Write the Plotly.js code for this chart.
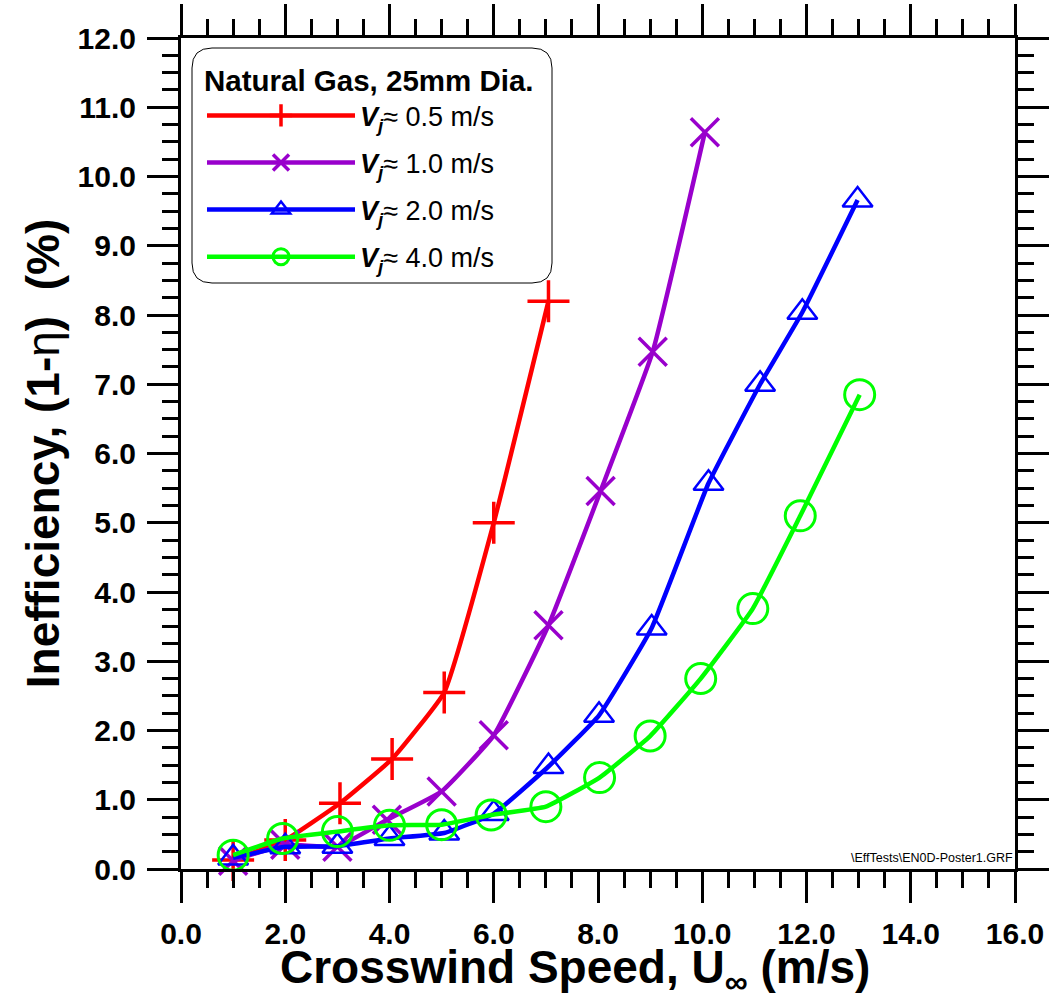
<!DOCTYPE html>
<html>
<head>
<meta charset="utf-8">
<script src="https://cdn.plot.ly/plotly-3.0.1.min.js"></script>
<style>html,body{margin:0;padding:0;background:#fff;}#chart{width:1053px;height:999px;}</style>
</head>
<body>
<div id="chart"></div>
<script>
// Crosswind speed (m/s) and inefficiency (%) for each jet exit velocity
var seriesNames = ["0.5 m/s", "1.0 m/s", "2.0 m/s", "4.0 m/s"];

var xVj05 = [1.0, 2.0, 3.05, 4.05, 5.05, 6.0, 7.05];
var yVj05 = [0.13, 0.42, 0.95, 1.59, 2.55, 5.0, 8.2];

var xVj10 = [1.0, 2.0, 3.0, 3.95, 5.0, 6.0, 7.05, 8.05, 9.05, 10.05];
var yVj10 = [0.12, 0.35, 0.32, 0.71, 1.12, 1.93, 3.52, 5.46, 7.47, 10.64];

var xVj20 = [1.0, 2.0, 3.0, 4.0, 5.05, 6.0, 7.05, 8.02, 9.03, 10.12, 11.11, 11.92, 12.98];
var yVj20 = [0.16, 0.32, 0.33, 0.44, 0.52, 0.8, 1.48, 2.22, 3.48, 5.57, 7.0, 8.04, 9.66];

var xVj40 = [1.0, 1.95, 3.0, 4.0, 5.0, 5.95, 7.0, 8.03, 9.0, 9.97, 10.97, 11.88, 13.02];
var yVj40 = [0.2, 0.44, 0.54, 0.63, 0.64, 0.78, 0.9, 1.32, 1.92, 2.75, 3.76, 5.1, 6.85];

var legendTitle = "Natural Gas, 25mm Dia.";
var xTitle = "<b>Crosswind Speed, U<sub>\u221E</sub> (m/s)</b>";
var yTitle = "Inefficiency, (1-<span style=\"font-weight:normal\">\u03B7</span>)\u00A0\u00A0(%)";
var fileNote = "\\EffTests\\EN0D-Poster1.GRF";

function vjLabel(s) {
  return "<b><i>V</i></b><sub><b><i>j</i></b></sub>\u2248 " + s;
}

var styles = [
  {color: "#ff0000", symbol: "cross-thin-open", size: 30, lw: 3.5},
  {color: "#9900cc", symbol: "x-thin-open", size: 28, lw: 3.5},
  {color: "#0000ff", symbol: "triangle-up-open", size: 26, lw: 2.5},
  {color: "#00ff00", symbol: "circle-open", size: 30, lw: 3}
];
var xs = [xVj05, xVj10, xVj20, xVj40];
var ys = [yVj05, yVj10, yVj20, yVj40];

var traces = xs.map(function (x, i) {
  var st = styles[i];
  return {
    type: "scatter",
    mode: "lines+markers",
    x: x,
    y: ys[i],
    name: vjLabel(seriesNames[i]),
    legendgroup: "g" + i,
    line: {color: st.color, width: 4.5, shape: "spline", smoothing: 0.35},
    marker: {symbol: st.symbol, size: st.size, color: st.color,
             line: {color: st.color, width: st.lw}},
    cliponaxis: false
  };
});

var fam = "Liberation Sans, Arial, sans-serif";
var tickFont = {family: fam, size: 30, color: "#000", weight: "bold"};
var titleFont = {family: fam, size: 46, color: "#000", weight: "bold"};

var rx = 20 / 834, ry = 20 / 831;
var bx0 = (192 - 181) / 834, bx1 = (552 - 181) / 834;
var by1 = (869 - 48) / 831, by0 = (869 - 283) / 831;
var boxPath = "M" + (bx0 + rx) + "," + by1 +
  " L" + (bx1 - rx) + "," + by1 +
  " Q" + bx1 + "," + by1 + " " + bx1 + "," + (by1 - ry) +
  " L" + bx1 + "," + (by0 + ry) +
  " Q" + bx1 + "," + by0 + " " + (bx1 - rx) + "," + by0 +
  " L" + (bx0 + rx) + "," + by0 +
  " Q" + bx0 + "," + by0 + " " + bx0 + "," + (by0 + ry) +
  " L" + bx0 + "," + (by1 - ry) +
  " Q" + bx0 + "," + by1 + " " + (bx0 + rx) + "," + by1 + " Z";

var layout = {
  width: 1053,
  height: 999,
  margin: {l: 181, r: 38, t: 38, b: 130},
  paper_bgcolor: "#ffffff",
  plot_bgcolor: "#ffffff",
  showlegend: true,
  xaxis: {
    range: [0, 16], dtick: 2, tick0: 0, tickformat: ".1f",
    showgrid: false, zeroline: false,
    showline: true, linecolor: "#000", linewidth: 3, mirror: "ticks",
    ticks: "outside", ticklen: 31, tickwidth: 3, tickcolor: "#000",
    ticklabelstandoff: 5,
    minor: {dtick: 0.5, tick0: 0, ticks: "outside", ticklen: 16, tickwidth: 3, tickcolor: "#000", showgrid: false},
    tickfont: tickFont
  },
  yaxis: {
    range: [0, 12], dtick: 1, tick0: 0, tickformat: ".1f",
    showgrid: false, zeroline: false,
    showline: true, linecolor: "#000", linewidth: 3, mirror: "ticks",
    ticks: "outside", ticklen: 31, tickwidth: 3, tickcolor: "#000",
    ticklabelstandoff: 5,
    minor: {dtick: 0.25, tick0: 0, ticks: "outside", ticklen: 16, tickwidth: 3, tickcolor: "#000", showgrid: false},
    tickfont: tickFont,
    title: {text: yTitle, font: titleFont, standoff: 4}
  },
  legend: {
    x: (202 - 181) / 834, y: (869 - 53) / 831, xanchor: "left", yanchor: "top",
    bgcolor: "rgba(0,0,0,0)", borderwidth: 0,
    itemwidth: 148,
    traceorder: "grouped",
    tracegroupgap: 9,
    font: {family: fam, size: 27, color: "#000"},
    title: {text: "<b>" + legendTitle + "</b>", side: "top",
            font: {family: fam, size: 29.5, color: "#000"}}
  },
  shapes: [{
    type: "path", xref: "paper", yref: "paper", path: boxPath,
    line: {color: "#000", width: 1}, fillcolor: "#ffffff", layer: "above"
  }],
  annotations: [{
    xref: "paper", yref: "paper", x: 1.0, y: (869 - 858) / 831,
    xanchor: "right", yanchor: "middle", showarrow: false,
    text: fileNote,
    font: {family: fam, size: 12.5, color: "#000"}
  }, {
    xref: "paper", yref: "paper", x: (575 - 181) / 834, y: (869 - 970) / 831,
    xanchor: "center", yanchor: "middle", showarrow: false,
    text: xTitle,
    font: {family: fam, size: 46, color: "#000"}
  }]
};

Plotly.newPlot("chart", traces, layout, {displayModeBar: false, staticPlot: true});
</script>
</body>
</html>
